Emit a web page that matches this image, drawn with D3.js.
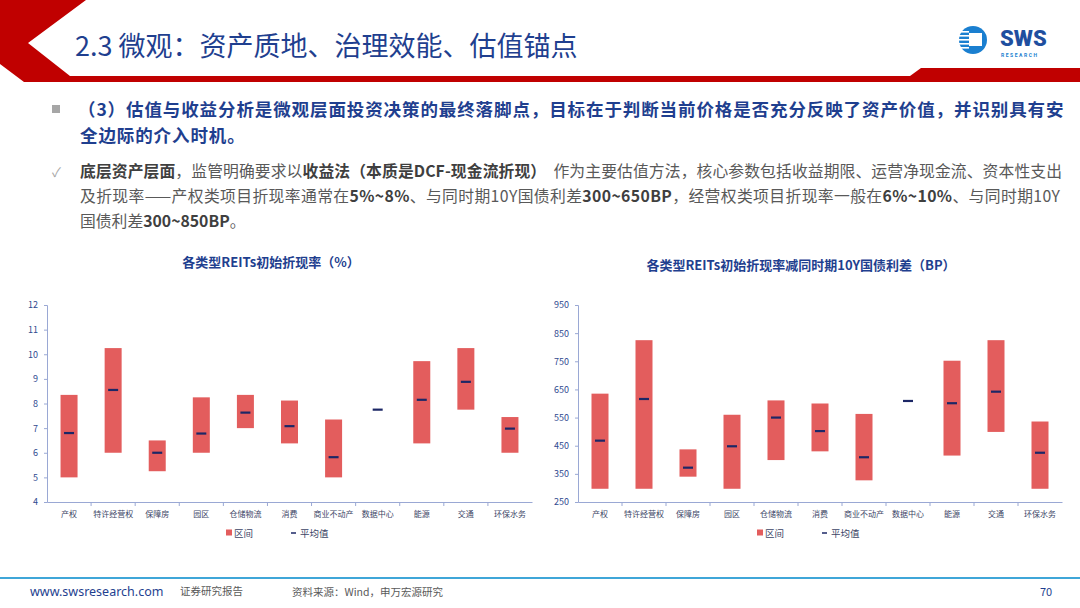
<!DOCTYPE html>
<html>
<head>
<meta charset="utf-8">
<script src="https://cdn.jsdelivr.net/npm/d3@7/dist/d3.min.js"></script>
<style>
  body { margin: 0; background: #fff; }
  svg { display: block; font-family: "Noto Sans CJK SC", "Noto Sans", sans-serif; }
</style>
</head>
<body>
<script>
// categories shared by both charts
var categories = ["产权", "特许经营权", "保障房", "园区", "仓储物流", "消费", "商业不动产", "数据中心", "能源", "交通", "环保水务"];

// left chart: initial discount rate (%)
var rateLow  = [5.0, 6.0, 5.25, 6.0, 7.0, 6.38, 5.0, 7.75, 6.38, 7.75, 6.0];
var rateHigh = [8.35, 10.25, 6.5, 8.25, 8.35, 8.12, 7.35, 7.75, 9.72, 10.25, 7.45];
var rateMean = [6.8, 8.55, 6.0, 6.78, 7.63, 7.08, 5.82, 7.75, 8.15, 8.88, 6.98];
var rateTicks = [4, 5, 6, 7, 8, 9, 10, 11, 12];

// right chart: spread over 10Y treasury (BP)
var spreadLow  = [297, 297, 340, 297, 399, 430, 327, 609, 415, 499, 297];
var spreadHigh = [635, 825, 437, 560, 611, 600, 563, 609, 752, 825, 536];
var spreadMean = [468, 616, 372, 448, 550, 502, 409, 609, 601, 642, 425];
var spreadTicks = [250, 350, 450, 550, 650, 750, 850, 950];

var W = 1080, H = 608;
var navy = "#1f3f8f";
var barColor = "#e35d5d";
var meanColor = "#1c2766";

var svg = d3.select("body").append("svg").attr("width", W).attr("height", H);

// header shape
svg.append("path")
  .attr("d", "M0,0 L86,0 L28,43 L70,76 L910,76 L921,68 L1080,68 L1080,82 L24,82 L0,64 Z")
  .attr("fill", "#c00000");

svg.append("text").attr("x", 75).attr("y", 56)
  .attr("font-size", 27).attr("fill", navy)
  .text("2.3 微观：资产质地、治理效能、估值锚点");

// logo
var logo = svg.append("g").attr("transform", "translate(973,40)");
logo.append("circle").attr("r", 14).attr("fill", "#1a7fd0");
logo.append("rect").attr("x", -4).attr("y", -7).attr("width", 13).attr("height", 13).attr("fill", "#fff");
[-9, -5, -1, 3, 7].forEach(function(d) {
  logo.append("rect").attr("x", -14).attr("y", d).attr("width", 10).attr("height", 1.6).attr("fill", "#fff");
});
svg.append("text").attr("x", 1000).attr("y", 46)
  .attr("font-family", "Roboto, sans-serif").attr("font-weight", 900)
  .attr("font-size", 22).attr("fill", "#1f4f9f").text("SWS");
svg.append("text").attr("x", 1001).attr("y", 57)
  .attr("font-family", "Roboto, sans-serif").attr("font-weight", 700)
  .attr("font-size", 5).attr("fill", "#1a7fd0").attr("textLength", 36).text("RESEARCH");

// bullet paragraph
svg.append("rect").attr("x", 52).attr("y", 105).attr("width", 8).attr("height", 8).attr("fill", "#a6a6a6");
svg.append("text").attr("x", 78).attr("y", 116)
  .attr("font-size", 17.5).attr("font-weight", 700).attr("fill", navy).attr("letter-spacing", 0.9)
  .text("（3）估值与收益分析是微观层面投资决策的最终落脚点，目标在于判断当前价格是否充分反映了资产价值，并识别具有安");
svg.append("text").attr("x", 80).attr("y", 142)
  .attr("font-size", 17.5).attr("font-weight", 700).attr("fill", navy).attr("letter-spacing", 0.9)
  .text("全边际的介入时机。");

svg.append("text").attr("x", 52).attr("y", 177).attr("font-size", 13).attr("fill", "#a6a6a6").text("✓");

var lines = [
  [["底层资产层面", 1], ["，监管明确要求以", 0], ["收益法（本质是DCF-现金流折现）", 1], ["  作为主要估值方法，核心参数包括收益期限、运营净现金流、资本性支出", 0]],
  [["及折现率——产权类项目折现率通常在", 0], ["5%~8%", 1], ["、与同时期10Y国债利差", 0], ["300~650BP", 1], ["，经营权类项目折现率一般在", 0], ["6%~10%", 1], ["、与同时期10Y", 0]],
  [["国债利差", 0], ["300~850BP", 1], ["。", 0]]
];
var lineWidths = [982, 980, null];
lines.forEach(function(parts, i) {
  var t = svg.append("text").attr("x", 80).attr("y", 177 + i * 25)
    .attr("font-size", 15.8).attr("fill", "#595959").attr("xml:space", "preserve");
  if (lineWidths[i]) t.attr("textLength", lineWidths[i]).attr("lengthAdjust", "spacing");
  parts.forEach(function(p) {
    t.append("tspan").attr("font-weight", p[1] ? 700 : 400)
      .attr("fill", p[1] ? "#3f3f3f" : "#595959").text(p[0]);
  });
});

// chart drawing
function drawChart(opt) {
  var g = svg.append("g");
  var x = d3.scaleBand().domain(categories).range([opt.x0, opt.x1]);
  var y = d3.scaleLinear().domain([opt.ticks[0], opt.ticks[opt.ticks.length - 1]]).range([502, 305]);

  g.append("text").attr("x", opt.titleX).attr("y", opt.titleY).attr("text-anchor", "middle")
    .attr("font-size", 13).attr("font-weight", 700).attr("fill", navy).text(opt.title);

  var yAxis = g.append("g").attr("transform", "translate(" + opt.x0 + ",0)")
    .call(d3.axisLeft(y).tickValues(opt.ticks).tickSize(3).tickPadding(6));
  var xAxis = g.append("g").attr("transform", "translate(0,502)")
    .call(d3.axisBottom(x).tickSize(0).tickPadding(9));
  [yAxis, xAxis].forEach(function(a) {
    a.select(".domain").attr("stroke", "#9aa8d4");
    a.selectAll(".tick line").attr("stroke", "#9aa8d4");
    a.selectAll("text").attr("font-family", "\"Noto Sans CJK SC\", sans-serif");
  });
  yAxis.selectAll("text").attr("font-size", 9).attr("fill", "#2f4a8f");
  xAxis.selectAll("text").attr("font-size", 8).attr("fill", "#3c4566");
  // ticks between categories
  g.selectAll(".sep").data(categories.slice(1)).enter().append("line")
    .attr("x1", function(d) { return x(d); }).attr("x2", function(d) { return x(d); })
    .attr("y1", 502).attr("y2", 506).attr("stroke", "#9aa8d4");

  var bw = 17;
  g.selectAll(".bar").data(categories).enter().append("rect")
    .attr("x", function(d) { return x(d) + x.bandwidth() / 2 - bw / 2; })
    .attr("y", function(d, i) { return y(opt.high[i]); })
    .attr("width", bw)
    .attr("height", function(d, i) { return y(opt.low[i]) - y(opt.high[i]); })
    .attr("fill", barColor);

  g.selectAll(".mean").data(categories).enter().append("line")
    .attr("x1", function(d) { return x(d) + x.bandwidth() / 2 - 5; })
    .attr("x2", function(d) { return x(d) + x.bandwidth() / 2 + 5; })
    .attr("y1", function(d, i) { return y(opt.mean[i]); })
    .attr("y2", function(d, i) { return y(opt.mean[i]); })
    .attr("stroke", meanColor).attr("stroke-width", 2.2);

  // legend
  var lg = g.append("g").attr("transform", "translate(" + opt.legendX + ",533)");
  lg.append("rect").attr("x", 0).attr("y", -3.5).attr("width", 6).attr("height", 6).attr("fill", barColor);
  lg.append("text").attr("x", 8).attr("y", 3.5).attr("font-size", 9.5).attr("fill", "#3c4566").text("区间");
  lg.append("line").attr("x1", 65).attr("x2", 70).attr("y1", 0).attr("y2", 0).attr("stroke", meanColor).attr("stroke-width", 1.5);
  lg.append("text").attr("x", 74).attr("y", 3.5).attr("font-size", 9.5).attr("fill", "#3c4566").text("平均值");
}

drawChart({
  x0: 47, x1: 532, ticks: rateTicks, low: rateLow, high: rateHigh, mean: rateMean,
  title: "各类型REITs初始折现率（%）", titleX: 271, titleY: 267, legendX: 226
});
drawChart({
  x0: 578, x1: 1062, ticks: spreadTicks, low: spreadLow, high: spreadHigh, mean: spreadMean,
  title: "各类型REITs初始折现率减同时期10Y国债利差（BP）", titleX: 801, titleY: 270, legendX: 757
});

// footer
svg.append("line").attr("x1", 0).attr("x2", W).attr("y1", 578).attr("y2", 578)
  .attr("stroke", "#3fa6d8").attr("stroke-width", 2);
svg.append("text").attr("x", 30).attr("y", 596).attr("font-size", 12.5).attr("fill", "#1f3f8f")
  .attr("font-family", "\"Liberation Sans Narrow\", \"Noto Sans\", sans-serif").text("www.swsresearch.com");
svg.append("text").attr("x", 180).attr("y", 595).attr("font-size", 10.5).attr("fill", "#595959").text("证券研究报告");
svg.append("text").attr("x", 292).attr("y", 596).attr("font-size", 10.5).attr("fill", "#595959").text("资料来源：Wind，申万宏源研究");
svg.append("text").attr("x", 1040).attr("y", 596).attr("font-size", 11).attr("fill", "#1f3f8f").text("70");
</script>
</body>
</html>
